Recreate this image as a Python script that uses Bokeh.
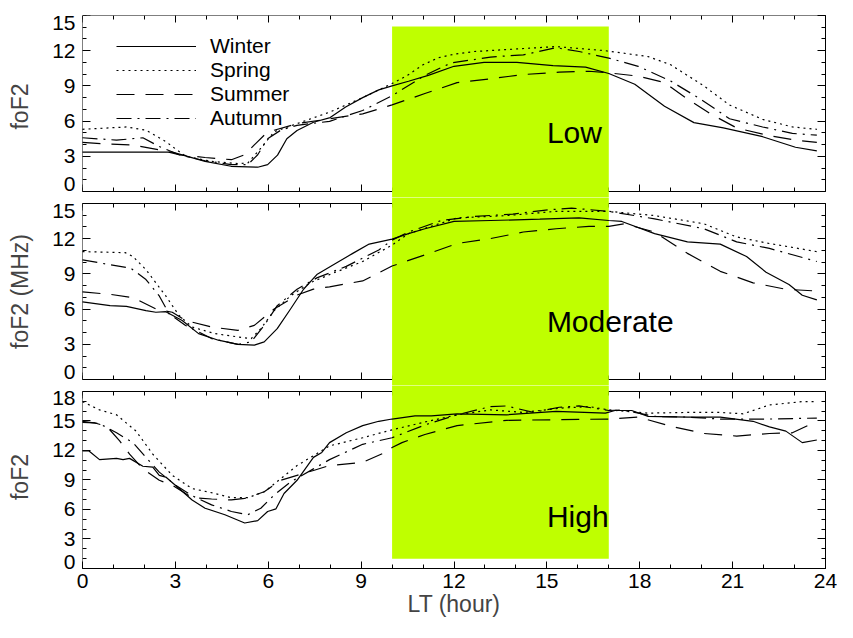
from bokeh.plotting import figure
from bokeh.models import (Range1d, LinearAxis, SingleIntervalTicker, FixedTicker, BoxAnnotation,
                          Legend, LegendItem)
from bokeh.layouts import column
from bokeh.embed import file_html
from bokeh.resources import INLINE
from bokeh.core.properties import value

# ---------------- data ----------------
seasons = ["Winter", "Spring", "Summer", "Autumn"]
panel_names = ["Low", "Moderate", "High"]
daytime_window = [10, 17]

# Low solar activity
low_winter_h = [0, 1.5, 2.9, 3.96, 4.8, 5.66, 5.98, 6.3, 6.6, 6.93, 7.46, 8.0, 8.5, 9.05, 9.57, 10.0, 10.53, 11.17, 12.0, 12.97, 14.03, 15.2, 16.25, 17.0, 17.84, 18.8, 19.75, 20.7, 21.97, 23.03, 23.72]
low_winter_v = [3.35, 3.35, 3.35, 2.57, 2.15, 2.07, 2.29, 3.1, 4.5, 5.2, 5.9, 6.3, 7.2, 8.0, 8.66, 9.0, 9.4, 9.9, 10.67, 11.0, 11.0, 10.73, 10.6, 10.06, 9.14, 7.27, 5.87, 5.42, 4.67, 3.77, 3.46]
low_spring_h = [0, 1.42, 2.05, 2.69, 3.33, 4.17, 5.02, 5.34, 5.76, 6.19, 6.93, 7.98, 9.05, 10.0, 10.5, 11.0, 11.5, 12.0, 12.65, 14.03, 15.3, 16.89, 18.27, 19.0, 20.07, 20.9, 21.97, 22.93, 23.72]
low_spring_v = [5.3, 5.5, 5.22, 4.25, 3.0, 2.57, 2.38, 2.43, 3.7, 5.09, 5.78, 6.76, 8.0, 9.2, 9.9, 10.8, 11.4, 11.7, 11.93, 12.15, 12.35, 12.0, 11.5, 10.8, 9.0, 7.37, 6.15, 5.5, 5.3]
low_summer_h = [0, 0.78, 1.63, 2.48, 3.12, 3.96, 4.81, 5.24, 5.55, 5.87, 6.19, 6.93, 7.98, 9.05, 10.0, 11.06, 12.1, 13.18, 14.24, 15.4, 16.36, 17.0, 17.95, 18.8, 19.54, 20.28, 21.13, 22.19, 23.03, 23.72]
low_summer_v = [4.19, 4.05, 3.97, 3.55, 3.13, 2.9, 2.71, 3.13, 3.97, 4.8, 5.22, 5.78, 6.2, 6.62, 7.38, 8.35, 9.28, 9.61, 9.97, 10.17, 10.25, 10.11, 9.83, 9.28, 7.88, 6.62, 5.42, 4.75, 4.38, 4.19]
low_autumn_h = [0, 1.1, 1.95, 2.48, 3.12, 3.96, 4.81, 5.34, 5.66, 5.98, 6.4, 6.93, 7.98, 9.05, 10.0, 11.06, 11.9, 13.18, 14.24, 15.3, 16.04, 17.0, 17.95, 19.0, 19.96, 20.9, 21.97, 22.93, 23.72]
low_autumn_v = [4.58, 4.38, 4.58, 3.83, 3.13, 2.62, 2.29, 2.29, 3.13, 4.5, 5.22, 5.64, 5.98, 6.9, 8.16, 9.9, 10.95, 11.46, 11.65, 12.26, 11.93, 11.37, 10.67, 9.41, 7.88, 6.2, 5.5, 4.95, 4.8]

# Moderate solar activity
mod_winter_h = [0, 0.89, 1.42, 2.05, 2.37, 2.69, 3.22, 3.75, 4.39, 5.02, 5.55, 5.87, 6.29, 6.72, 7.14, 7.57, 8.2, 8.73, 9.26, 10.0, 10.53, 11.06, 12.0, 13.18, 14.77, 16.04, 17.0, 17.42, 18.48, 19.54, 20.6, 21.45, 22.08, 22.82, 23.25, 23.72]
mod_winter_v = [6.62, 6.29, 6.23, 5.87, 5.73, 5.78, 5.03, 3.91, 3.35, 2.99, 2.93, 3.21, 4.33, 6.01, 7.69, 8.94, 9.92, 10.75, 11.54, 11.96, 12.43, 12.85, 13.47, 13.55, 13.66, 13.77, 13.55, 13.47, 12.43, 11.73, 11.54, 10.48, 9.14, 8.1, 7.18, 6.79]
mod_spring_h = [0, 1.38, 1.63, 2.05, 2.69, 3.12, 3.54, 4.28, 5.02, 5.45, 5.76, 6.19, 6.72, 7.35, 7.98, 9.05, 10.0, 10.53, 12.1, 13.7, 15.3, 17.0, 18.48, 20.07, 21.13, 22.19, 23.72]
mod_spring_v = [10.9, 10.81, 10.48, 9.36, 7.12, 5.45, 4.47, 3.91, 3.63, 3.49, 4.33, 5.87, 7.12, 8.24, 8.94, 10.06, 11.46, 12.43, 13.77, 13.97, 14.33, 14.33, 13.97, 13.27, 12.15, 11.59, 10.9]
mod_summer_h = [0, 0.89, 1.63, 2.37, 2.9, 3.33, 4.17, 5.02, 5.55, 6.19, 6.93, 7.46, 7.98, 9.05, 10.0, 11.06, 12.1, 13.18, 14.24, 15.3, 16.36, 17.0, 17.5, 18.48, 19.54, 20.6, 21.66, 22.72, 23.72]
mod_summer_v = [7.46, 7.26, 6.98, 6.01, 5.73, 5.03, 4.47, 4.19, 4.61, 6.01, 7.2, 7.7, 7.9, 8.4, 9.67, 10.62, 11.59, 12.01, 12.57, 12.85, 13.05, 13.05, 13.27, 12.57, 10.75, 9.22, 8.24, 7.69, 7.54]
mod_autumn_h = [0, 0.89, 1.55, 2.05, 2.48, 2.8, 3.33, 4.17, 5.02, 5.45, 5.87, 6.29, 6.93, 7.57, 8.52, 9.57, 10.0, 10.53, 11.59, 12.65, 13.9, 14.96, 15.8, 17.0, 18.48, 20.07, 21.13, 22.19, 23.72]
mod_autumn_v = [10.2, 9.78, 9.5, 8.52, 7.12, 5.59, 4.61, 3.49, 2.99, 3.21, 4.61, 6.29, 7.69, 8.66, 9.64, 11.04, 11.88, 12.57, 13.55, 13.89, 14.1, 14.44, 14.61, 14.33, 13.69, 12.85, 11.73, 11.17, 10.06]

# High solar activity
high_winter_h = [0, 0.2, 0.55, 1.1, 1.31, 1.52, 1.95, 2.27, 2.48, 2.69, 3.12, 3.54, 3.96, 4.6, 5.24, 5.66, 5.98, 6.25, 6.51, 6.93, 7.46, 7.73, 7.98, 8.52, 9.05, 9.57, 10.0, 10.74, 11.27, 12.1, 13.7, 15.3, 16.89, 17.2, 17.74, 18.27, 19.54, 20.6, 21.66, 22.19, 22.72, 23.25, 23.72]
high_winter_v = [11.97, 11.97, 11.07, 11.2, 11.07, 11.2, 10.4, 10.3, 9.47, 9.3, 8.13, 6.97, 6.13, 5.47, 4.63, 4.87, 5.8, 6.07, 7.63, 8.97, 11.3, 11.8, 12.8, 13.8, 14.53, 14.97, 15.2, 15.53, 15.53, 15.73, 15.63, 15.97, 15.8, 16.07, 16.07, 15.47, 15.4, 15.4, 14.97, 14.4, 13.97, 12.8, 13.07]
high_spring_h = [0, 0.55, 1.1, 1.73, 2.27, 2.9, 3.54, 4.28, 4.81, 5.34, 5.87, 6.4, 6.93, 7.46, 7.98, 9.05, 10.0, 11.06, 12.1, 13.18, 14.24, 15.4, 16.36, 17.0, 18.27, 19.54, 20.6, 21.34, 22.19, 23.25, 23.72]
high_spring_v = [16.97, 16.13, 15.63, 13.97, 11.63, 9.47, 8.13, 7.63, 7.2, 7.2, 7.8, 9.13, 10.47, 11.47, 12.47, 13.3, 14.1, 14.9, 15.63, 16.13, 15.87, 16.3, 16.47, 16.13, 15.8, 15.87, 15.87, 15.73, 16.63, 16.97, 16.97]
high_summer_h = [0, 0.4, 0.78, 1.2, 1.52, 1.95, 2.48, 2.9, 3.54, 4.17, 4.81, 5.24, 5.87, 6.4, 6.93, 7.46, 7.98, 9.05, 9.78, 10.0, 10.32, 11.06, 12.1, 13.7, 15.3, 17.0, 17.95, 19.0, 20.07, 21.13, 22.19, 22.93, 23.72]
high_summer_v = [14.87, 14.8, 14.47, 12.97, 11.63, 10.13, 8.97, 8.47, 7.2, 7.07, 6.97, 7.13, 7.8, 8.97, 9.47, 9.97, 10.47, 10.8, 11.8, 12.3, 12.8, 13.63, 14.53, 15.07, 15.13, 15.2, 15.4, 14.47, 13.73, 13.47, 13.73, 13.8, 14.97]
high_autumn_h = [0, 0.55, 1.1, 1.63, 2.05, 2.48, 3.01, 3.54, 4.17, 4.81, 5.34, 5.76, 6.19, 6.72, 7.46, 7.98, 9.05, 10.0, 11.06, 12.1, 13.18, 13.7, 14.56, 15.4, 16.04, 17.0, 17.42, 18.48, 19.54, 20.6, 22.19, 23.72]
high_autumn_v = [14.97, 14.73, 13.8, 12.8, 11.3, 9.8, 8.47, 7.4, 6.47, 5.8, 5.47, 6.13, 7.47, 8.8, 10.13, 11.07, 12.63, 13.3, 14.6, 15.63, 16.47, 16.53, 15.87, 16.4, 16.53, 16.07, 16.13, 15.47, 15.4, 15.2, 15.2, 15.3]

# ---------------- styling ----------------
FONT = "Liberation Sans"
GREEN = "#bfff00"
DASHES = {"Winter": "solid", "Spring": "2 4", "Summer": "18 11", "Autumn": "15 6 2 6"}
END_LABEL_SHIFT_PX = 7


def base_axis_style(ax, major_in, minor_in):
    ax.major_tick_in = major_in
    ax.major_tick_out = 0
    ax.minor_tick_in = minor_in
    ax.minor_tick_out = 0
    ax.axis_line_color = "black"
    ax.axis_line_width = 1
    ax.major_tick_line_color = "black"
    ax.minor_tick_line_color = "black"


def hide_labels(ax):
    ax.major_label_text_font_size = "0px"
    ax.major_label_text_color = None
    ax.major_label_text_alpha = 0
    ax.major_label_standoff = 0
    ax.axis_label = None


def x_ticker():
    return SingleIntervalTicker(interval=3, num_minor_ticks=3)


def make_panel(ymax, yr, height, top_b, bottom_b, ylabel, show_x, bottom_fixed,
               box_top, box_bottom, series, name, name_y):
    p = figure(width=837, height=height, x_range=Range1d(0, 24), y_range=Range1d(*yr),
               output_backend="svg", toolbar_location=None,
               min_border_left=82, min_border_right=12, min_border_top=top_b, min_border_bottom=bottom_b)
    p.outline_line_color = None
    p.xgrid.visible = False
    p.ygrid.visible = False

    frame_px = height - top_b - bottom_b
    px_per_unit = frame_px / (yr[1] - yr[0])
    e = round(END_LABEL_SHIFT_PX / px_per_unit, 2)

    # top frame edge (fixed at the panel maximum, takes no border space)
    top_ax = LinearAxis(ticker=x_ticker(), fixed_location=ymax)
    base_axis_style(top_ax, 7, 4)
    hide_labels(top_ax)
    p.add_layout(top_ax, "above")

    # bottom frame edge
    bx = p.below[0]
    bx.ticker = x_ticker()
    base_axis_style(bx, 7, 4)
    if show_x:
        bx.major_label_text_font = FONT
        bx.major_label_text_font_size = "21px"
        bx.major_label_text_color = "black"
        bx.major_label_standoff = 5
        bx.axis_label = "LT (hour)"
        bx.axis_label_text_font = FONT
        bx.axis_label_text_font_size = "23px"
        bx.axis_label_text_font_style = "normal"
        bx.axis_label_standoff = 0
    else:
        hide_labels(bx)
    if bottom_fixed:
        bx.fixed_location = 0

    # left: labels axis (end labels nudged inside the panel, as in the original)
    ly = p.left[0]
    label_ticks = [e] + list(range(3, ymax, 3)) + [ymax - e]
    ly.ticker = FixedTicker(ticks=label_ticks, minor_ticks=[])
    ly.major_label_overrides = {e: "0", ymax - e: str(ymax)}
    ly.axis_line_color = None
    ly.major_tick_line_color = None
    ly.minor_tick_line_color = None
    ly.major_tick_in = 0
    ly.major_tick_out = 0
    ly.minor_tick_in = 0
    ly.minor_tick_out = 0
    ly.major_label_text_font = FONT
    ly.major_label_text_font_size = "21px"
    ly.major_label_text_color = "black"
    ly.major_label_standoff = 7
    ly.axis_label = ylabel
    ly.axis_label_text_font = FONT
    ly.axis_label_text_font_size = "23px"
    ly.axis_label_text_font_style = "normal"
    ly.axis_label_standoff = 16

    # left: frame edge with ticks
    lt = LinearAxis(ticker=FixedTicker(ticks=list(range(0, ymax + 1, 3)), minor_ticks=list(range(0, ymax + 1))),
                    bounds=(0, ymax), fixed_location=0)
    base_axis_style(lt, 8, 4)
    hide_labels(lt)
    p.add_layout(lt, "left")

    # right frame edge
    ry = LinearAxis(ticker=FixedTicker(ticks=list(range(0, ymax + 1, 3)), minor_ticks=list(range(0, ymax + 1))),
                    bounds=(0, ymax))
    base_axis_style(ry, 8, 4)
    hide_labels(ry)
    p.add_layout(ry, "right")

    box = BoxAnnotation(left=daytime_window[0], right=daytime_window[1], top=box_top, bottom=box_bottom,
                        fill_color=GREEN, fill_alpha=1, line_color=None, level="annotation")
    p.add_layout(box)

    rends = []
    for season, (h, v) in zip(seasons, series):
        r = p.line(h, v, line_color="black", line_width=1.2, line_dash=DASHES[season], level="overlay")
        rends.append(r)

    p.text(x=[15], y=[name_y], text=[name], text_font=value(FONT), text_font_size="30px",
           text_baseline="middle", text_align="left", text_color="black", level="overlay")
    return p, rends


p1, r1 = make_panel(15, (-0.511, 15), 197, 15, 0, "foF2", False, True, 14.06, -5,
                    [(low_winter_h, low_winter_v), (low_spring_h, low_spring_v),
                     (low_summer_h, low_summer_v), (low_autumn_h, low_autumn_v)], panel_names[0], 5.0)
p2, r2 = make_panel(15, (-0.511, 15.511), 188, 0, 0, "foF2 (MHz)", False, True, 20, -5,
                    [(mod_winter_h, mod_winter_v), (mod_spring_h, mod_spring_v),
                     (mod_summer_h, mod_summer_v), (mod_autumn_h, mod_autumn_v)], panel_names[1], 4.95)
p3, r3 = make_panel(18, (0, 18.61), 237, 0, 54, "foF2", True, False, 25, 1.0,
                    [(high_winter_h, high_winter_v), (high_spring_h, high_spring_v),
                     (high_summer_h, high_summer_v), (high_autumn_h, high_autumn_v)], panel_names[2], 5.25)

legend = Legend(items=[LegendItem(label=s, renderers=[r]) for s, r in zip(seasons, r1)],
                location=(34, 67), padding=0, margin=0, spacing=0,
                glyph_width=80, glyph_height=20, label_height=20, label_standoff=14,
                label_text_font=FONT, label_text_font_size="21px", label_text_color="black",
                label_text_line_height=1.0,
                border_line_color=None, background_fill_alpha=0, level="overlay")
p1.add_layout(legend)

layout = column(p1, p2, p3, spacing=0)
open("out.html", "w").write(file_html(layout, INLINE))
